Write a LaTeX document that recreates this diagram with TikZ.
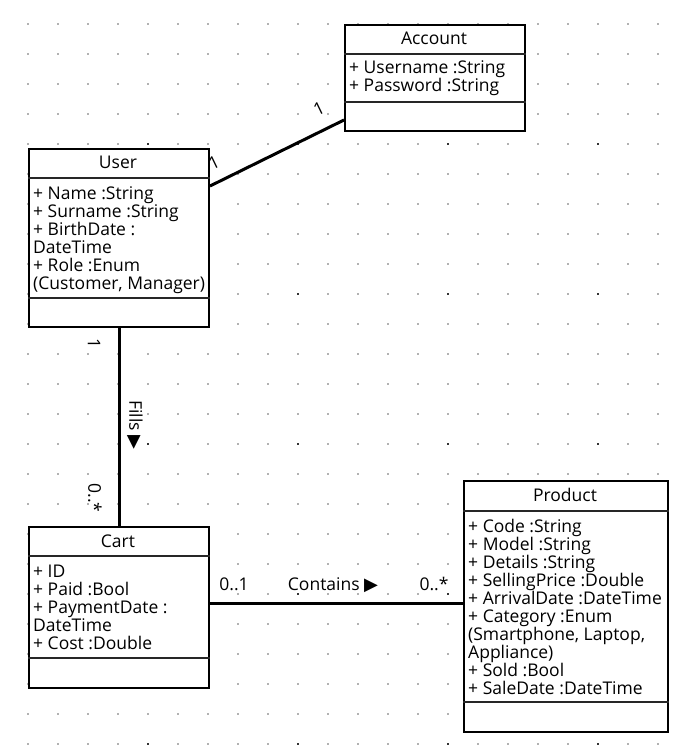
\documentclass[tikz,border=0pt]{standalone}
\usepackage{fontspec}
\setmainfont{Open Sans}
\newfontfamily\symfont{DejaVu Sans}
\usetikzlibrary{calc}
\tikzset{
  classbox/.style={draw=black, line width=2pt, fill=white, anchor=north west, inner sep=0pt},
  sepline/.style={draw=black!85, line width=1.2pt},
  title/.style={anchor=base, inner sep=0pt, font=\fontsize{17.5}{18}\selectfont},
  attr/.style={anchor=base west, inner sep=0pt, font=\fontsize{17.5}{18}\selectfont},
  lbl/.style={inner sep=0pt, font=\fontsize{17.5}{18}\selectfont},
  conn/.style={draw=black, line width=3pt},
  griddot/.style={fill=black!30},
  darkdot/.style={fill=black!80}
}
\newcommand{\tri}{{\symfont\fontsize{18}{18}\selectfont ▶}}
\begin{document}
\begin{tikzpicture}[x=1pt,y=-1pt]
\useasboundingbox[fill=white] (0,0) rectangle (686,754);
% dot grid
\foreach \i in {0,...,21}{
  \foreach \j in {0,...,24}{
    \fill[griddot] ({28+30*\i-1},{24+30*\j-1}) rectangle ++(2,2);
  }
}
\foreach \i in {0,...,3}{
  \foreach \j in {0,...,4}{
    \fill[darkdot] ({148+150*\i-1.2},{144+150*\j-1.2}) rectangle ++(2.4,2.4);
  }
}
% class boxes
\node[classbox, minimum width=180pt, minimum height=106pt] (account) at (344,24) {};
\node[classbox, minimum width=180pt, minimum height=178pt] (user) at (28,148) {};
\node[classbox, minimum width=180pt, minimum height=161pt] (cart) at (28,526) {};
\node[classbox, minimum width=204pt, minimum height=251pt] (product) at (463,480) {};
% separators
\draw[sepline] ($(account.north west)+(0,30)$) -- ($(account.north east)+(0,30)$);
\draw[sepline] ($(account.north west)+(0,78)$) -- ($(account.north east)+(0,78)$);
\draw[sepline] ($(user.north west)+(0,30)$) -- ($(user.north east)+(0,30)$);
\draw[sepline] ($(user.north west)+(0,150)$) -- ($(user.north east)+(0,150)$);
\draw[sepline] ($(cart.north west)+(0,30)$) -- ($(cart.north east)+(0,30)$);
\draw[sepline] ($(cart.north west)+(0,132)$) -- ($(cart.north east)+(0,132)$);
\draw[sepline] ($(product.north west)+(0,31)$) -- ($(product.north east)+(0,31)$);
\draw[sepline] ($(product.north west)+(0,222)$) -- ($(product.north east)+(0,222)$);
% titles
\node[title] (accountT) at (434,45) {Account};
\node[title] (userT) at (118,168) {User};
\node[title] (cartT) at (118,547) {Cart};
\node[title] (productT) at (565,501) {Product};
% attributes
\foreach [count=\k] \t in {{+ Username :String},{+ Password :String}}
  \node[attr] (acc\k) at (349,{74+18*(\k-1)}) {\t};
\foreach [count=\k] \t in {{+ Name :String},{+ Surname :String},{+ BirthDate :},{DateTime},{+ Role :Enum},{(Customer, Manager)}}
  \node[attr] (usr\k) at (33,{199+18*(\k-1)}) {\t};
\foreach [count=\k] \t in {{+ ID},{+ Paid :Bool},{+ PaymentDate :},{DateTime},{+ Cost :Double}}
  \node[attr] (crt\k) at (33,{577+18*(\k-1)}) {\t};
\foreach [count=\k] \t in {{+ Code :String},{+ Model :String},{+ Details :String},{+ SellingPrice :Double},{+ ArrivalDate :DateTime},{+ Category :Enum},{(Smartphone, Laptop,},{Appliance)},{+ Sold :Bool},{+ SaleDate :DateTime}}
  \node[attr] (prd\k) at (468,{532+18*(\k-1)}) {\t};
% connectors
\coordinate (ua) at ($(user.north east)+(0,38)$);
\coordinate (ab) at ($(account.north west)+(0,96)$);
\draw[conn] (ua) -- (ab);
\draw[conn] (user.south) -- (cart.north);
\coordinate (cp) at ($(cart.north east)+(0,77)$);
\draw[conn] (cp) -- (cp -| product.west);
% connector labels
\node[lbl, rotate=25.7] (m1) at (319,109) {1};
\node[lbl, rotate=25.7] (m2) at (214,163) {1};
\node[lbl, rotate=-90] (m3) at (94,343) {1};
\node[lbl, rotate=-90] (m4) at (95,498) {0..*};
\node[lbl, rotate=-90] (fills) at (135,425) {Fills \tri};
\node[lbl, anchor=base] (m5) at (234,590) {0..1};
\node[lbl, anchor=base] (contains) at (333,590) {Contains \tri};
\node[lbl, anchor=base] (m6) at (434,590) {0..*};
\end{tikzpicture}
\end{document}
